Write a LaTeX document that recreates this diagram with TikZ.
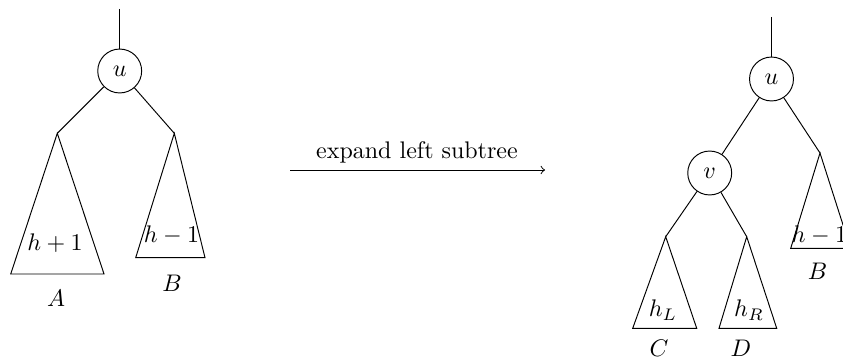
\documentclass[tikz,border=0pt]{standalone}
\begin{document}
\begin{tikzpicture}[x=0.41667pt,y=-0.41667pt,
  vert/.style={circle,draw,minimum size=18.3pt,inner sep=0pt},
  lbl/.style={inner sep=0pt}]
\useasboundingbox (0,0) rectangle (843,360);
\clip (0,0) rectangle (843,360);
% ---------- left tree ----------
\coordinate (t1) at (119.7,9);
\node[vert] (u1) at (119.7,71) {$u$};
\coordinate (a1) at (57.3,133.3);
\coordinate (b1) at (174.3,133.3);
\coordinate (a1l) at (10.7,274);
\coordinate (a1r) at (104,274);
\coordinate (b1l) at (135.7,257.7);
\coordinate (b1r) at (205,257.7);
\draw (t1) -- (u1);
\draw (u1) -- (a1);
\draw (u1) -- (b1);
\draw (a1) -- (a1l) -- (a1r) -- cycle;
\draw (b1) -- (b1l) -- (b1r) -- cycle;
\node[lbl] (hA) at (55,243) {$h+1$};
\node[lbl] (hB) at (171.5,235) {$h-1$};
\node[lbl] (lA) at (56,298.5) {$A$};
\node[lbl] (lB) at (172,283) {$B$};
% ---------- arrow ----------
\coordinate (s) at (290,170);
\coordinate (e) at (545,170);
\draw[->] (s) -- (e);
\node[lbl] (cap) at (417,152.5) {expand left subtree};
% ---------- right tree ----------
\coordinate (t2) at (771.5,17);
\node[vert] (u2) at (771.5,79) {$u$};
\node[vert] (v2) at (709.7,173) {$v$};
\coordinate (b2) at (820,153);
\coordinate (b2l) at (790.7,248.3);
\coordinate (b2r) at (850.5,248.3);
\coordinate (c2) at (665.7,236.7);
\coordinate (d2) at (746.7,236.7);
\coordinate (c2l) at (632.7,328.3);
\coordinate (c2r) at (696.7,328.3);
\coordinate (d2l) at (719,328.3);
\coordinate (d2r) at (776.7,328.3);
\draw (t2) -- (u2);
\draw (u2) -- (v2);
\draw (u2) -- (b2);
\draw (v2) -- (c2);
\draw (v2) -- (d2);
\draw (b2) -- (b2l) -- (b2r) -- cycle;
\draw (c2) -- (c2l) -- (c2r) -- cycle;
\draw (d2) -- (d2l) -- (d2r) -- cycle;
\node[lbl] (hB2) at (819.5,235) {$h-1$};
\node[lbl] (lB2) at (817.5,271.5) {$B$};
\node[lbl] (hC) at (663,310) {$h_L$};
\node[lbl] (hD) at (749,310) {$h_R$};
\node[lbl] (lC) at (659,348.5) {$C$};
\node[lbl] (lD) at (741,348.5) {$D$};
\end{tikzpicture}
\end{document}
